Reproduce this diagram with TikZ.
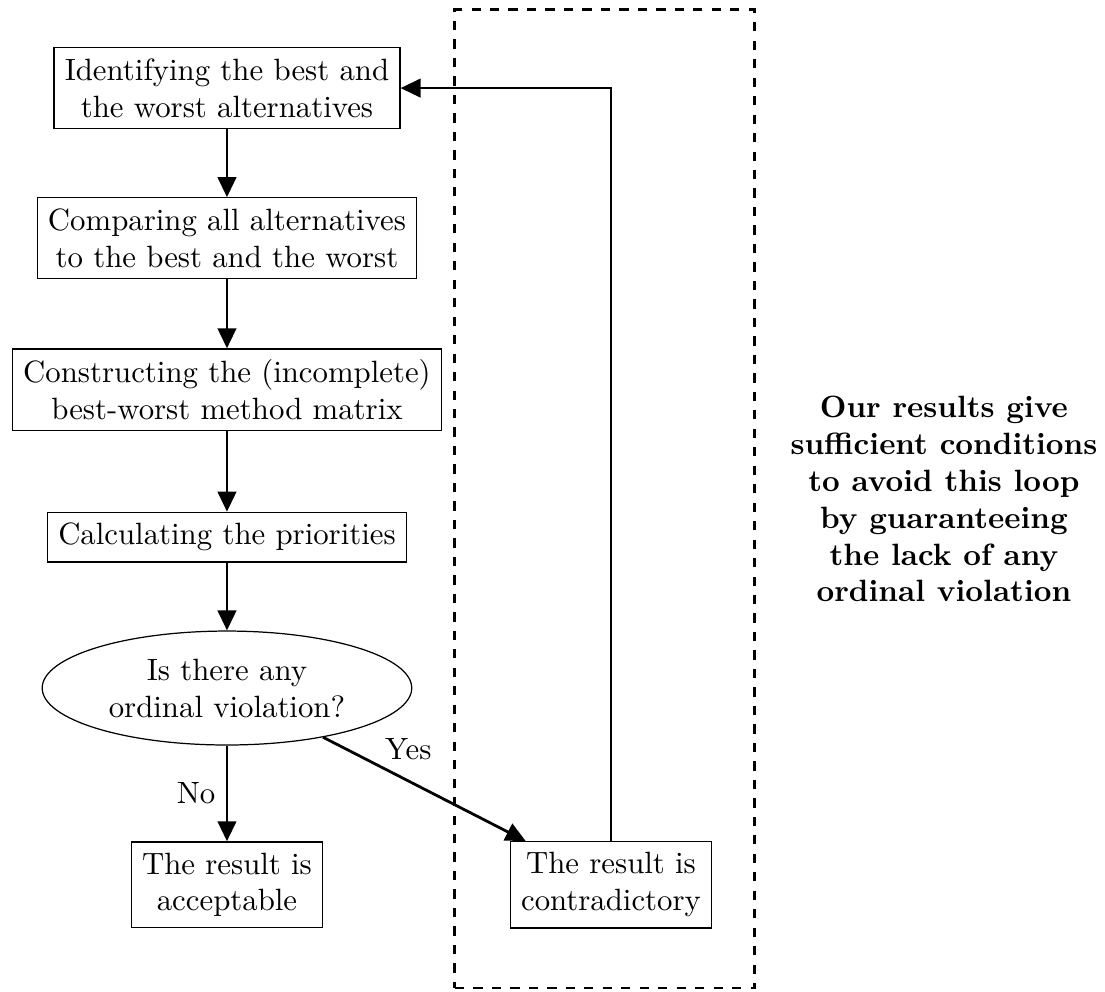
\documentclass[tikz,border=0pt]{standalone}
\usetikzlibrary{shapes.geometric,arrows.meta}

\begin{document}
\begin{tikzpicture}
[every node/.style={align=center},
 stepbox/.style={rectangle, draw=black, line width=0.4pt, inner sep=3.5pt},
 question/.style={ellipse, draw=black, line width=0.4pt, minimum width=120pt, minimum height=37pt, inner sep=0pt},
 flow/.style={line width=0.9pt, -{Triangle[length=6.5pt,width=6pt]}, color=black}]
\useasboundingbox (0pt,0pt) rectangle (358.8pt,-322pt);
\node (loopframe) [draw=black, dashed, line width=0.9pt, minimum width=97.4pt, minimum height=317.6pt, inner sep=0pt] at (196.4pt, -162pt) {};
\node (identify) [stepbox] at (73.7pt, -28.6pt) {Identifying the best and\\the worst alternatives};
\node (compare) [stepbox] at (73.7pt, -77.3pt) {Comparing all alternatives\\to the best and the worst};
\node (construct) [stepbox] at (73.7pt, -126.6pt) {Constructing the (incomplete)\\best-worst method matrix};
\node (calc) [stepbox] at (73.7pt, -174.4pt) {Calculating the priorities};
\node (question) [question] at (73.7pt, -223.4pt) {Is there any\\ordinal violation?};
\node (accept) [stepbox] at (73.7pt, -287.3pt) {The result is\\acceptable};
\node (contra) [stepbox] at (198.4pt, -287.3pt) {The result is\\contradictory};
\node (note) [font=\bfseries] at (306.5pt, -162pt) {Our results give\\sufficient conditions\\to avoid this loop\\by guaranteeing\\the lack of any\\ordinal violation};
\draw [flow] (identify) to (compare);
\draw [flow] (compare) to (construct);
\draw [flow] (construct) to (calc);
\draw [flow] (calc) to (question);
\draw [flow] (question) to node[left] {No} (accept);
\draw [flow] (question) to node[pos=0.42, above=3pt] {Yes} (contra);
\draw [flow] (contra.north) |- (identify.east);
\end{tikzpicture}
\end{document}
